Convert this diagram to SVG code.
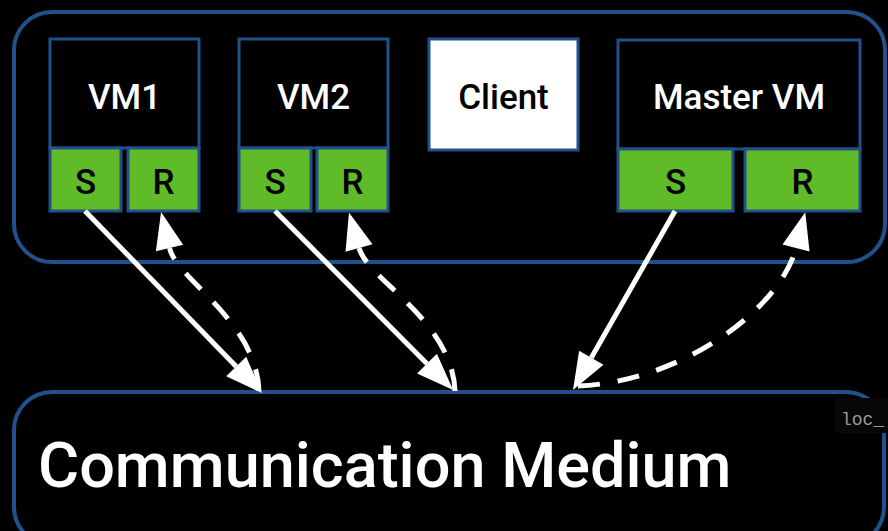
<svg xmlns="http://www.w3.org/2000/svg" width="888" height="531" viewBox="0 0 888 531">
<style>
.bg{fill:#000}
.frame{fill:none;stroke:#22508a;stroke-width:4}
.vm{fill:#000;stroke:#22508a;stroke-width:3}
.port{fill:#5fbb28;stroke:#22508a;stroke-width:3}
.client{fill:#fff;stroke:#22508a;stroke-width:3}
.lbl{font-family:Roboto,"Liberation Sans",sans-serif;font-size:35px;font-weight:500;fill:#fff;text-anchor:middle}
.plbl{font-family:Roboto,"Liberation Sans",sans-serif;font-size:35px;font-weight:500;fill:#000;text-anchor:middle}
.big{font-family:Roboto,"Liberation Sans",sans-serif;font-size:63px;font-weight:500;fill:#fff}
.code{font-family:"Liberation Mono",monospace;font-size:18px;fill:#9a9a9a}
.solid{fill:none;stroke:#fff;stroke-width:5}
.dash{fill:none;stroke:#fff;stroke-width:5;stroke-dasharray:22 18}
</style>
<defs>
<marker id="ah" markerUnits="userSpaceOnUse" markerWidth="38" markerHeight="28" viewBox="0 0 38 28" refX="0" refY="14" orient="auto" overflow="visible">
<path d="M0,0 L37,14 L0,28 z" fill="#fff"/>
</marker>
</defs>
<rect class="bg" x="0" y="0" width="888" height="531"/>
<g id="host">
<rect class="frame" x="14" y="12" width="871" height="250" rx="38"/>
</g>
<g id="medium">
<rect class="frame" x="14" y="392" width="870" height="153" rx="38"/>
<text class="big" x="38" y="487">Communication Medium</text>
<rect x="835" y="398" width="53" height="35" fill="#070707"/>
<text class="code" x="841" y="425">loc_</text>
</g>
<g id="vm1">
<rect class="vm" x="50" y="39" width="149" height="109"/>
<rect class="port" x="50" y="148" width="71" height="63"/>
<rect class="port" x="128" y="148" width="71" height="63"/>
<text class="lbl" x="124.5" y="109">VM1</text>
<text class="plbl" x="85.5" y="194">S</text>
<text class="plbl" x="163.5" y="194">R</text>
</g>
<g id="vm2">
<rect class="vm" x="239" y="39" width="149" height="109"/>
<rect class="port" x="239" y="148" width="72" height="63"/>
<rect class="port" x="317" y="148" width="71" height="63"/>
<text class="lbl" x="313.5" y="109">VM2</text>
<text class="plbl" x="275" y="194">S</text>
<text class="plbl" x="352.5" y="194">R</text>
</g>
<g id="client">
<rect class="client" x="429" y="39" width="149" height="111"/>
<text class="plbl" x="503.5" y="109">Client</text>
</g>
<g id="master">
<rect class="vm" x="618" y="40" width="242" height="109"/>
<rect class="port" x="618" y="149" width="115" height="62"/>
<rect class="port" x="745" y="149" width="115" height="62"/>
<text class="lbl" x="739" y="109">Master VM</text>
<text class="plbl" x="675.5" y="194">S</text>
<text class="plbl" x="802.5" y="194">R</text>
</g>
<g id="connectors">
<path class="solid" d="M85,211 L236.2,366.5" marker-end="url(#ah)"/>
<path class="dash" d="M259,391 C256,320 177,280 169.5,248" marker-end="url(#ah)"/>
<path class="solid" d="M275,211 L427,363.7" marker-end="url(#ah)"/>
<path class="dash" d="M455,391 C452,320 368,280 359,248" marker-end="url(#ah)"/>
<path class="solid" d="M675,211 L591.3,357.8" marker-end="url(#ah)"/>
<path class="dash" d="M578,386 C680,382 780,310 796,248" marker-end="url(#ah)"/>
</g>
</svg>
